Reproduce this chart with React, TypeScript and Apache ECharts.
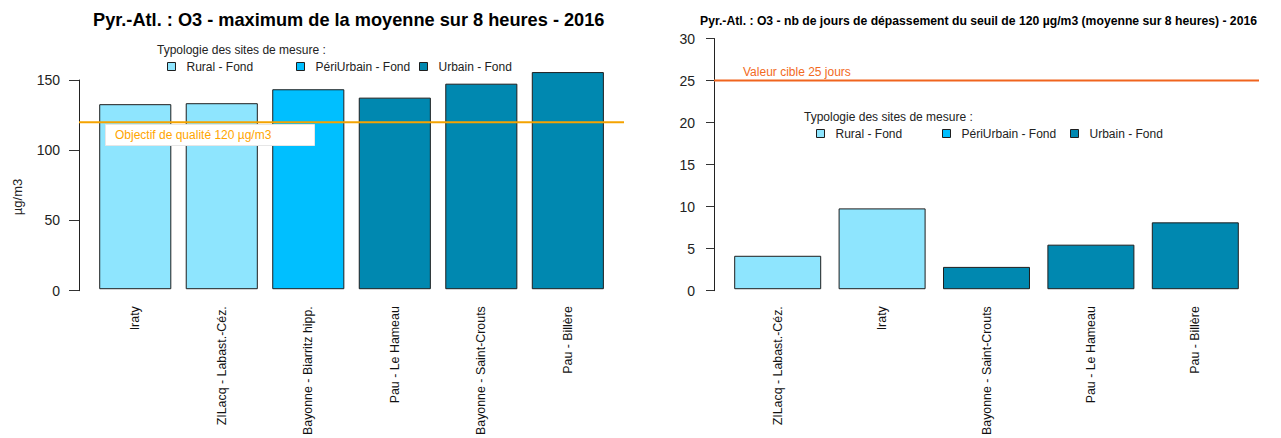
import React, { useEffect, useRef } from 'react';
import * as echarts from 'echarts';

// ---- Data ----
const leftCategories = ['Iraty', 'ZILacq - Labast.-Céz.', 'Bayonne - Biarritz hipp.', 'Pau - Le Hameau', 'Bayonne - Saint-Crouts', 'Pau - Billère'];
const leftValues = [132.6, 133.3, 143.3, 137.3, 147.3, 155.6];
const leftTypes = ['Rural - Fond', 'Rural - Fond', 'PériUrbain - Fond', 'Urbain - Fond', 'Urbain - Fond', 'Urbain - Fond'];
const leftThreshold = 120;
const leftThresholdLabel = 'Objectif de qualité 120 µg/m3';
const leftTitle = 'Pyr.-Atl. : O3 - maximum de la moyenne sur 8 heures - 2016';
const leftYName = 'µg/m3';
const leftYMin = 0;
const leftYMax = 150;
const leftYStep = 50;

const rightCategories = ['ZILacq - Labast.-Céz.', 'Iraty', 'Bayonne - Saint-Crouts', 'Pau - Le Hameau', 'Pau - Billère'];
const rightValues = [4, 9.67, 2.67, 5.33, 8];
const rightTypes = ['Rural - Fond', 'Rural - Fond', 'Urbain - Fond', 'Urbain - Fond', 'Urbain - Fond'];
const rightThreshold = 25;
const rightThresholdLabel = 'Valeur cible 25 jours';
const rightTitle = 'Pyr.-Atl. : O3 - nb de jours de dépassement du seuil de 120 µg/m3 (moyenne sur 8 heures) - 2016';
const rightYMin = 0;
const rightYMax = 30;
const rightYStep = 5;

const legendHeading = 'Typologie des sites de mesure :';
const typologies = ['Rural - Fond', 'PériUrbain - Fond', 'Urbain - Fond'];
const typologyColors = ['#8EE5FE', '#00BFFF', '#0088B0'];

const FONT = '"Liberation Sans", Arial, sans-serif';
const BORDER = '#1e1e1e';

export default function App() {
  const ref = useRef<HTMLDivElement>(null);

  useEffect(() => {
    if (!ref.current) return;
    const chart = echarts.init(ref.current, undefined, { renderer: 'svg' });

    // layout (pixels)
    const L = { axisLeft: 79, axisWidth: 545, zeroY: 290.7, topTickY: 80, barLeft: 92, barWidth: 519.1 };
    const leftPxPerUnit = (L.zeroY - L.topTickY) / (leftYMax - leftYMin);
    const leftBarMax = 160;
    const R = { axisLeft: 714, axisWidth: 545, zeroY: 290.7, topTickY: 38.5, barLeft: 725.5, barWidth: 522 };

    const valueAxisCommon = (gridIndex: number, min: number, max: number, step: number, tickLen: number) => ({
      type: 'value',
      gridIndex,
      min,
      max,
      interval: step,
      axisLine: { show: true, lineStyle: { color: '#222', width: 1 } },
      axisTick: { show: true, length: tickLen, lineStyle: { color: '#333' } },
      axisLabel: { fontSize: 14, color: '#222', margin: 19, fontFamily: FONT },
      splitLine: { show: false },
    });

    const catAxis = (gridIndex: number, data: string[]) => ({
      type: 'category',
      gridIndex,
      data,
      axisLine: { show: false },
      axisTick: { show: false },
      axisLabel: { rotate: 90, interval: 0, fontSize: 12.4, color: '#111', margin: 17, fontFamily: FONT },
      splitLine: { show: false },
    });

    const barSeries = (values: number[], types: string[], axisIndex: number, stack: string) =>
      typologies.map((t, k) => ({
        type: 'bar',
        name: t,
        xAxisIndex: axisIndex,
        yAxisIndex: axisIndex,
        stack,
        barCategoryGap: '16.667%',
        data: values.map((v, i) => (types[i] === t ? v : '-')),
        itemStyle: { color: typologyColors[k], borderColor: BORDER, borderWidth: 1 },
        silent: true,
        z: 2,
      }));

    const legendItem = (name: string, left: number, top: number) => ({
      data: [name],
      left,
      top,
      padding: 0,
      icon: 'rect',
      itemWidth: 8,
      itemHeight: 8,
      selectedMode: false,
      itemStyle: { borderColor: BORDER, borderWidth: 1 },
      textStyle: { fontSize: 12, color: '#222', fontFamily: FONT, padding: [0, 0, 0, 6] },
    });

    const option: any = {
      animation: false,
      textStyle: { fontFamily: FONT },
      title: [
        { text: leftTitle, left: 93, top: 10, padding: 0, textStyle: { fontSize: 18.2, fontWeight: 'bold', color: '#000', lineHeight: 20, fontFamily: FONT } },
        { text: rightTitle, left: 700, top: 13.5, padding: 0, textStyle: { fontSize: 12.2, fontWeight: 'bold', color: '#000', lineHeight: 14, fontFamily: FONT } },
        { text: legendHeading, left: 157, top: 42.5, padding: 0, textStyle: { fontSize: 12, fontWeight: 'normal', color: '#222', lineHeight: 14, fontFamily: FONT } },
        { text: legendHeading, left: 804, top: 109.5, padding: 0, textStyle: { fontSize: 12, fontWeight: 'normal', color: '#222', lineHeight: 14, fontFamily: FONT } },
        {
          text: leftThresholdLabel, left: 105, top: 124, padding: [5, 43, 5, 10],
          backgroundColor: '#fff', borderColor: '#e6e6e6', borderWidth: 1,
          textStyle: { fontSize: 12, fontWeight: 'normal', color: '#FFA500', lineHeight: 12, fontFamily: FONT },
        },
        { text: rightThresholdLabel, left: 743, top: 64.7, padding: 0, textStyle: { fontSize: 12, fontWeight: 'normal', color: '#F26A22', lineHeight: 14, fontFamily: FONT } },
      ],
      legend: [
        legendItem(typologies[0], 167, 60.5),
        legendItem(typologies[1], 296, 60.5),
        legendItem(typologies[2], 419, 60.5),
        legendItem(typologies[0], 816, 127.5),
        legendItem(typologies[1], 942, 127.5),
        legendItem(typologies[2], 1070, 127.5),
      ],
      grid: [
        { left: L.axisLeft, width: L.axisWidth, top: L.topTickY, height: L.zeroY - L.topTickY },
        { left: L.barLeft, width: L.barWidth, top: L.zeroY - leftBarMax * leftPxPerUnit, height: leftBarMax * leftPxPerUnit },
        { left: R.axisLeft, width: R.axisWidth, top: R.topTickY, height: R.zeroY - R.topTickY },
        { left: R.barLeft, width: R.barWidth, top: R.topTickY, height: R.zeroY - R.topTickY },
      ],
      xAxis: [
        { type: 'value', gridIndex: 0, min: 0, max: 1, show: false },
        catAxis(1, leftCategories),
        { type: 'value', gridIndex: 2, min: 0, max: 1, show: false },
        catAxis(3, rightCategories),
      ],
      yAxis: [
        valueAxisCommon(0, leftYMin, leftYMax, leftYStep, 10),
        { type: 'value', gridIndex: 1, min: 0, max: leftBarMax, show: false },
        valueAxisCommon(2, rightYMin, rightYMax, rightYStep, 8),
        { type: 'value', gridIndex: 3, min: rightYMin, max: rightYMax, show: false },
      ],
      graphic: [
        {
          type: 'text', x: 17, y: 197, rotation: Math.PI / 2,
          style: { text: leftYName, fontSize: 13, fill: '#222', align: 'center', verticalAlign: 'middle', fontFamily: FONT },
        },
      ],
      series: [
        ...barSeries(leftValues, leftTypes, 1, 'left'),
        ...barSeries(rightValues, rightTypes, 3, 'right'),
        {
          type: 'line', name: 'leftThreshold', xAxisIndex: 0, yAxisIndex: 0,
          data: [[0, leftThreshold], [1, leftThreshold]], symbol: 'none', silent: true, z: 5,
          lineStyle: { color: '#F5A300', width: 2 },
        },
        {
          type: 'line', name: 'rightThreshold', xAxisIndex: 2, yAxisIndex: 2,
          data: [[0, rightThreshold], [1, rightThreshold]], symbol: 'none', silent: true, z: 5,
          lineStyle: { color: '#F0641E', width: 2 },
        },
      ],
    };

    chart.setOption(option);
    return () => chart.dispose();
  }, []);

  return <div ref={ref} style={{ position: 'fixed', left: 0, top: 0, width: 1281, height: 438, background: '#fff' }} />;
}
